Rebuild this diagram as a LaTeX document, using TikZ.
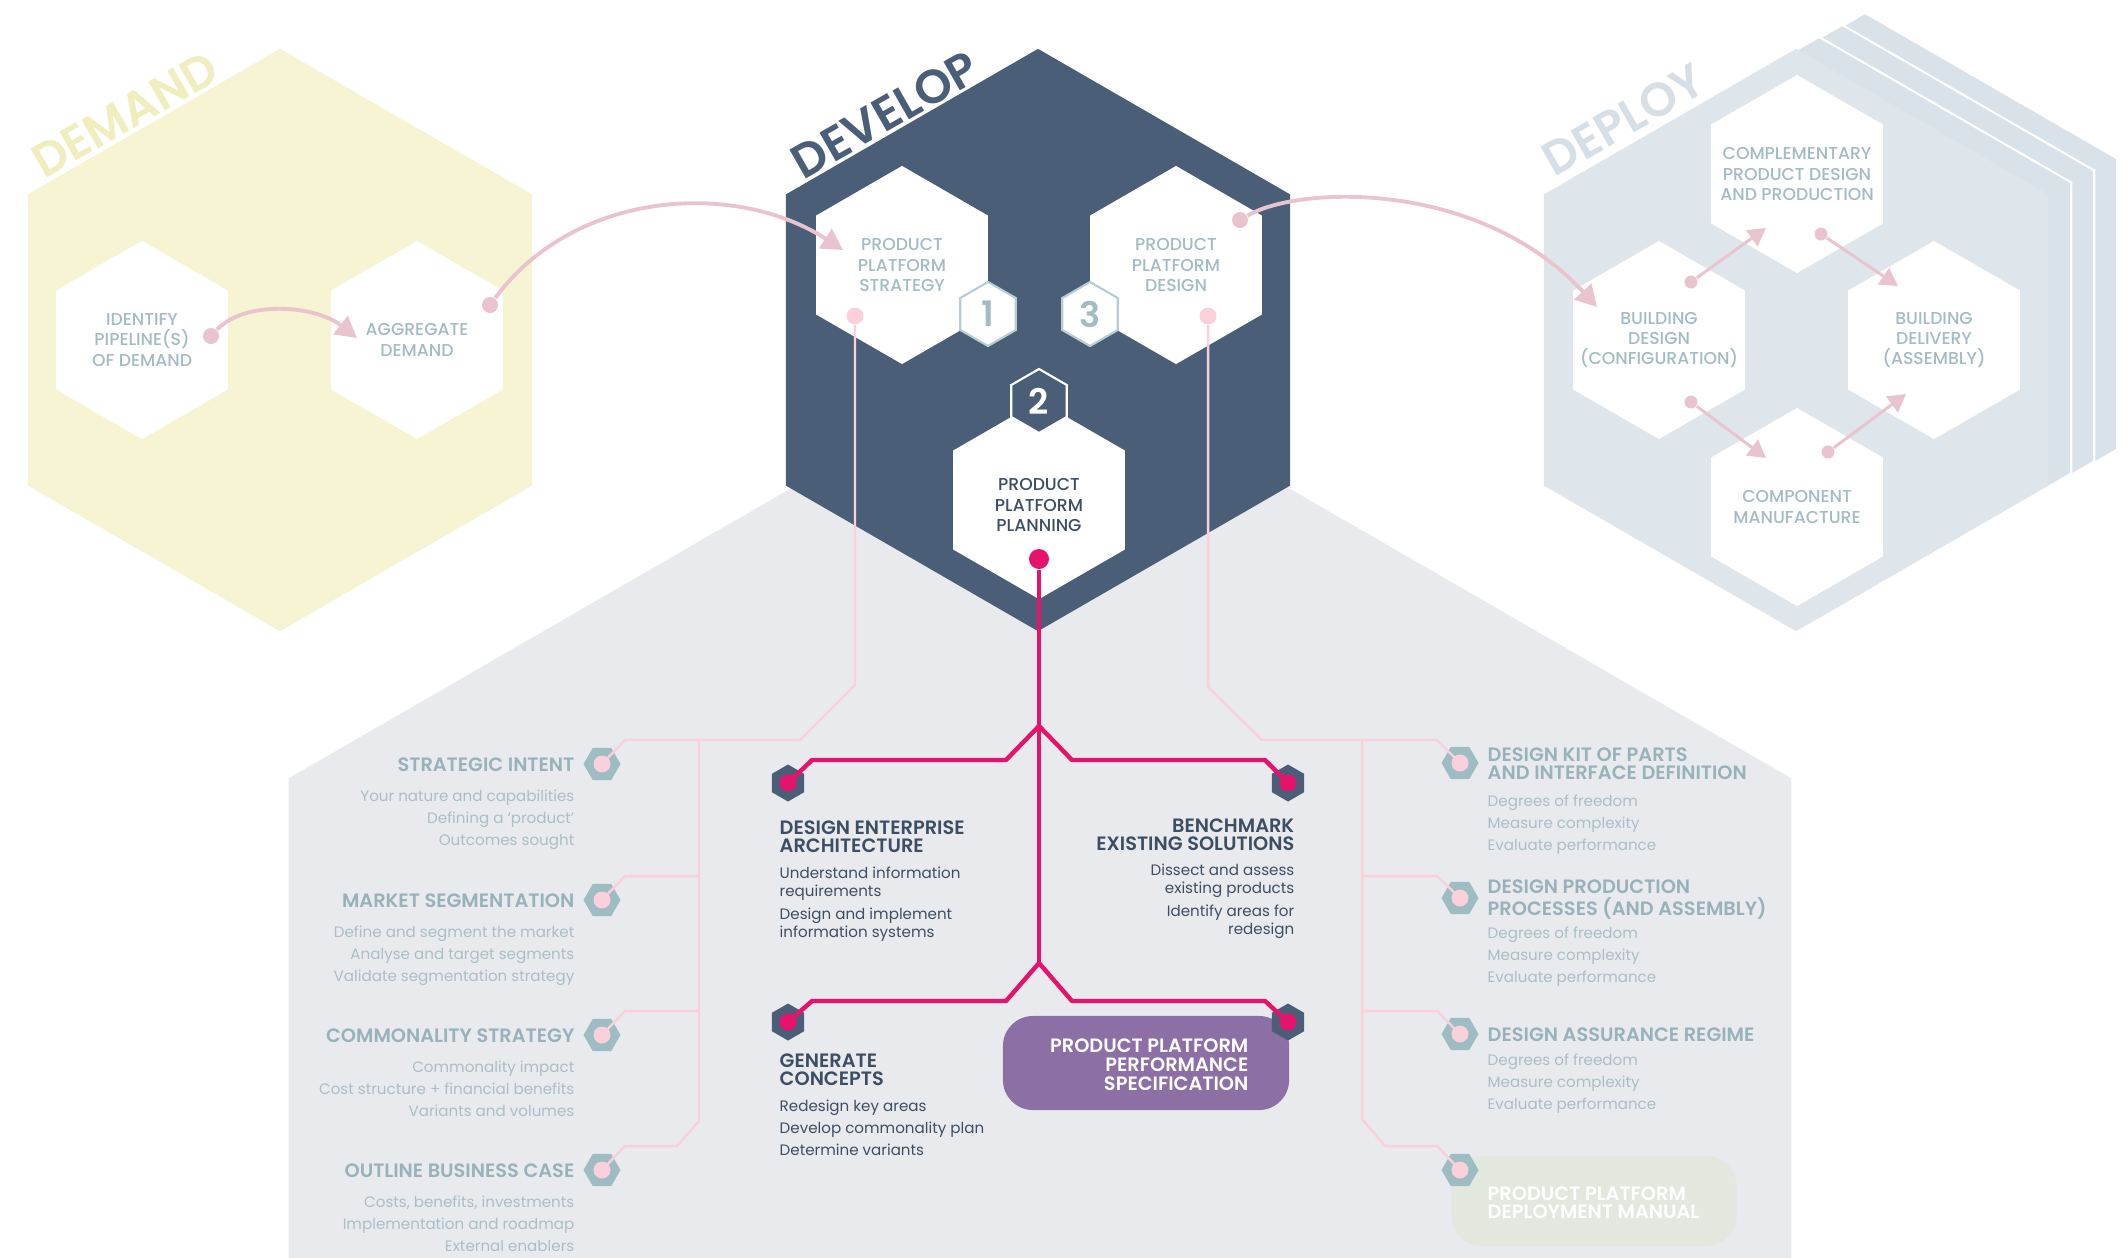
\documentclass[tikz,border=0pt]{standalone}
\usepackage{fontspec}
\setmainfont{Poppins}
\newfontfamily\popmed{Poppins Medium}
\newfontfamily\popsemi{Poppins SemiBold}
\usetikzlibrary{shapes.geometric,arrows.meta}

\definecolor{demandfill}{HTML}{F6F4D3}
\definecolor{demandtxt}{HTML}{F0EDBF}
\definecolor{devfill}{HTML}{4A5F77}
\definecolor{depfill}{HTML}{DEE6EB}
\definecolor{deplayer}{HTML}{D8E2E8}
\definecolor{deptxt}{HTML}{D5DFE5}
\definecolor{panelfill}{HTML}{E9EAEE}
\definecolor{hextxt}{HTML}{A3BCC3}
\definecolor{badgeline}{HTML}{B5CDD3}
\definecolor{darktxt}{HTML}{3D4E63}
\definecolor{sidehd}{HTML}{97B2B9}
\definecolor{sidesb}{HTML}{AABFC5}
\definecolor{tealhex}{HTML}{9DBDC3}
\definecolor{palepink}{HTML}{FAD0DA}
\definecolor{arrowpink}{HTML}{E9C4CF}
\definecolor{hotpink}{HTML}{E5136B}
\definecolor{purplebox}{HTML}{8B6FA5}
\definecolor{manualbox}{HTML}{E3E8DF}

\tikzset{
  hexshape/.style={regular polygon, regular polygon sides=6, inner sep=0pt, outer sep=0pt},
  pointy/.style={hexshape, shape border rotate=30},
  bighex/.style={pointy, minimum size=5.82cm},
  stephex/.style={pointy, minimum size=1.98cm, fill=white},
  badge/.style={pointy, minimum size=0.64cm, line width=0.6pt, font=\popsemi\fontsize{10}{10}\selectfont},
  hexlabel/.style={align=center, inner sep=0pt, font=\popmed\fontsize{4.9}{5.8}\selectfont, text=hextxt},
  phase/.style={anchor=base, rotate=29.7, inner sep=0pt, font=\popsemi\fontsize{13.5}{13.5}\selectfont},
  pdot/.style={circle, inner sep=0pt, minimum size=0.16cm, fill=arrowpink},
  flow/.style={draw=arrowpink, line width=1.1pt, -{Triangle[length=6pt,width=6.5pt]}},
  minor/.style={draw=arrowpink, line width=0.85pt, -{Triangle[length=5pt,width=5.5pt]}},
  bus/.style={draw=palepink, line width=0.7pt, line join=round},
  spine/.style={draw=hotpink, line width=1.25pt, line join=round},
  tealbul/.style={hexshape, minimum size=0.37cm, fill=tealhex},
  darkbul/.style={pointy, minimum size=0.37cm, fill=devfill},
  budot/.style={circle, inner sep=0pt, minimum size=0.17cm, fill=palepink},
  magdot/.style={circle, inner sep=0pt, minimum size=0.17cm, fill=hotpink},
  sidehead/.style={inner sep=0pt, font=\popsemi\fontsize{5.5}{5.1}\selectfont, text=sidehd},
  sidesub/.style={inner sep=0pt, font=\fontsize{4.3}{6.2}\selectfont, text=sidesb},
  midhead/.style={inner sep=0pt, font=\popsemi\fontsize{5.5}{5.1}\selectfont, text=darktxt},
  midsub/.style={inner sep=0pt, font=\fontsize{4.3}{5.1}\selectfont, text=darktxt},
}

\begin{document}
\begin{tikzpicture}[x=0.01cm, y=-0.01cm]
\useasboundingbox (0,0) rectangle (2128,1257);
\clip (0,0) rectangle (2128,1257);

% grey panel behind the planning detail
\node[bighex, minimum size=17.34cm, fill=panelfill] (panel) at (1040,1212) {};

% ---------------- DEMAND ----------------
\node[bighex, fill=demandfill] (demand) at (280,340) {};
\node[phase, text=demandtxt] (demandlbl) at (133,129) {DEMAND};
\node[stephex] (identify) at (142,340) {};
\node[hexlabel] (identifytxt) at (identify) {IDENTIFY\\PIPELINE(S)\\OF DEMAND};
\node[stephex] (aggregate) at (417,340) {};
\node[hexlabel] (aggregatetxt) at (aggregate) {AGGREGATE\\DEMAND};

% ---------------- DEVELOP ----------------
\node[bighex, fill=devfill] (develop) at (1038,340) {};
\node[phase, text=devfill] (developlbl) at (893,129) {DEVELOP};
\node[stephex] (strategy) at (902,265) {};
\node[hexlabel] (strategytxt) at (strategy) {PRODUCT\\PLATFORM\\STRATEGY};
\node[stephex] (design) at (1176,265) {};
\node[hexlabel] (designtxt) at (design) {PRODUCT\\PLATFORM\\DESIGN};
\node[stephex] (planning) at (1039,500) {};
\node[hexlabel, text=darktxt] (planningtxt) at (1039,505) {PRODUCT\\PLATFORM\\PLANNING};

% numbered badges
\node[badge, fill=white, draw=badgeline, text=hextxt] (badge1) at (988,314) {1};
\node[badge, fill=white, draw=badgeline, text=hextxt] (badge3) at (1090,314) {3};
\node[badge, fill=devfill, draw=white, text=white] (badge2) at (1039,401) {2};

% ---------------- DEPLOY ----------------
\foreach \k in {3,2,1}
  \node[bighex, fill=deplayer, draw=white, line width=0.6pt] (layer\k) at (1796+23*\k,340-12*\k) {};
\node[bighex, fill=depfill] (deploy) at (1796,340) {};
\node[phase, text=deptxt] (deploylbl) at (1632,134) {DEPLOY};
\node[stephex] (compl) at (1797,174) {};
\node[hexlabel] (compltxt) at (compl) {COMPLEMENTARY\\PRODUCT DESIGN\\AND PRODUCTION};
\node[stephex] (bdesign) at (1659,340) {};
\node[hexlabel] (bdesigntxt) at (bdesign) {BUILDING\\DESIGN\\(CONFIGURATION)};
\node[stephex] (bdeliv) at (1934,340) {};
\node[hexlabel] (bdelivtxt) at (bdeliv) {BUILDING\\DELIVERY\\(ASSEMBLY)};
\node[stephex] (compman) at (1797,507) {};
\node[hexlabel] (compmantxt) at (compman) {COMPONENT\\MANUFACTURE};

% arrows between the deploy steps
\node[pdot, minimum size=0.13cm] (dd1) at (1691,282) {};
\node[pdot, minimum size=0.13cm] (dd2) at (1821,234) {};
\node[pdot, minimum size=0.13cm] (dd3) at (1691,402) {};
\node[pdot, minimum size=0.13cm] (dd4) at (1828,452) {};
\coordinate (tt1) at (1766,228);
\coordinate (tt2) at (1898,286);
\coordinate (tt3) at (1766,458);
\coordinate (tt4) at (1906,394);
\foreach \i in {1,...,4}
  \draw[minor] (dd\i) -- (tt\i);

% arrows between the phases
\node[pdot] (iddot) at (211,336) {};
\coordinate (aggin) at (357,338);
\draw[flow] (iddot) .. controls (245,300) and (315,305) .. (aggin);
\node[pdot] (aggdot) at (490,305) {};
\coordinate (stratin) at (843,250);
\draw[flow] (aggdot) .. controls (575,190) and (735,180) .. (stratin);
\node[pdot] (desdot) at (1240,220) {};
\coordinate (bdesin) at (1597,307);
\draw[flow] (desdot) .. controls (1300,185) and (1480,180) .. (bdesin);

% ---------------- LEFT COLUMN ----------------
% (multi-line nodes sit on the baseline of their last line)
\foreach \y/\head/\subs/\nm in {
  764/STRATEGIC INTENT/{Your nature and capabilities\\Defining a ‘product’\\Outcomes sought}/si,
  900/MARKET SEGMENTATION/{Define and segment the market\\Analyse and target segments\\Validate segmentation strategy}/ms,
  1035/COMMONALITY STRATEGY/{Commonality impact\\Cost structure + financial benefits\\Variants and volumes}/cs,
  1170/OUTLINE BUSINESS CASE/{Costs, benefits, investments\\Implementation and roadmap\\External enablers}/obc}{
  \node[sidehead, anchor=base east] (\nm-head) at (575,\y+7) {\head};
  \node[sidesub, align=right, anchor=base east] (\nm-sub) at (575,\y+81) {\subs};
  \node[tealbul] (\nm) at (602,\y) {};
}

% ---------------- RIGHT COLUMN ----------------
\node[sidehead, align=left, anchor=base west] (dkp-head) at (1487,779) {DESIGN KIT OF PARTS\\AND INTERFACE DEFINITION};
\node[sidehead, align=left, anchor=base west] (dpp-head) at (1487,915) {DESIGN PRODUCTION\\PROCESSES (AND ASSEMBLY)};
\node[sidehead, anchor=base west] (dar-head) at (1487,1041) {DESIGN ASSURANCE REGIME};
\foreach \y/\nm in {850/dkp, 982/dpp, 1109/dar}
  \node[sidesub, align=left, anchor=base west] (\nm-sub) at (1487,\y) {Degrees of freedom\\Measure complexity\\Evaluate performance};
\node[fill=manualbox, rounded corners=0.3cm, minimum width=2.85cm, minimum height=0.9cm] (manual) at (1594,1201) {};
\node[midhead, text=white, align=left, anchor=base west] (manualtxt) at (1487,1218) {PRODUCT PLATFORM\\DEPLOYMENT MANUAL};
\foreach \y/\nm in {763/dkp, 898/dpp, 1034/dar, 1170/ppdm}
  \node[tealbul] (\nm) at (1460,\y) {};

% ---------------- MIDDLE ----------------
\node[fill=purplebox, rounded corners=0.3cm, minimum width=2.86cm, minimum height=0.94cm] (pppsbox) at (1146,1063) {};
\node[midhead, text=white, align=right, anchor=base east, font=\popsemi\fontsize{5.5}{5.3}\selectfont] (pppstxt) at (1249,1090) {PRODUCT PLATFORM\\PERFORMANCE\\SPECIFICATION};

\node[midhead, align=left, anchor=base west] (dea-head) at (779,852) {DESIGN ENTERPRISE\\ARCHITECTURE};
\node[midsub, align=left, anchor=base west] (dea-sub) at (779,937) {Understand information\\requirements\\[1.2pt]Design and implement\\information systems};
\node[midhead, align=right, anchor=base east] (bes-head) at (1295,850) {BENCHMARK\\EXISTING SOLUTIONS};
\node[midsub, align=right, anchor=base east] (bes-sub) at (1295,934) {Dissect and assess\\existing products\\[1.2pt]Identify areas for\\redesign};
\node[midhead, align=left, anchor=base west] (gc-head) at (779,1085) {GENERATE\\CONCEPTS};
\node[midsub, align=left, anchor=base west, font=\fontsize{4.3}{6.2}\selectfont] (gc-sub) at (779,1155) {Redesign key areas\\Develop commonality plan\\Determine variants};

\foreach \x/\y/\nm in {788/783/dea, 1288/783/bes, 788/1022/gc, 1288/1022/ppb}
  \node[darkbul] (\nm) at (\x,\y) {};

% ---------------- CONNECTORS IN THE PANEL ----------------
\node[budot] (stratdot) at (855,316) {};
\node[budot] (designdot) at (1208,316) {};
\draw[bus] (stratdot) -- (855,685) -- (800,740) -- (625,740) -- (si.center);
\coordinate (lbus) at (699,740);
\draw[bus] (lbus) -- (699,1121) -- (677,1146) -- (625,1146) -- (obc.center);
\draw[bus] (699,876) -- (625,876) -- (ms.center);
\draw[bus] (699,1011) -- (625,1011) -- (cs.center);
\draw[bus] (designdot) -- (1208,687) -- (1262,740) -- (1437,740) -- (dkp.center);
\coordinate (rbus) at (1362,740);
\draw[bus] (rbus) -- (1362,1119) -- (1385,1146) -- (1437,1146) -- (ppdm.center);
\draw[bus] (1362,876) -- (1437,876) -- (dpp.center);
\draw[bus] (1362,1011) -- (1437,1011) -- (dar.center);
\foreach \nm in {si,ms,cs,obc,dkp,dpp,dar,ppdm}
  \node[budot] at (\nm) {};

% magenta tree from planning
\node[magdot, minimum size=0.2cm] (plandot) at (1039,559) {};
\coordinate (fork1) at (1039,726);
\coordinate (fork2) at (1039,963);
\draw[spine] (plandot) -- (fork2);
\draw[spine] (fork1) -- (1006,760) -- (812,760) -- (dea.center);
\draw[spine] (fork1) -- (1072,760) -- (1265,760) -- (bes.center);
\draw[spine] (fork2) -- (1006,1001) -- (812,1001) -- (gc.center);
\draw[spine] (fork2) -- (1072,1001) -- (1265,1001) -- (ppb.center);
\foreach \nm in {dea,bes,gc,ppb}
  \node[magdot] at (\nm) {};

\end{tikzpicture}
\end{document}
